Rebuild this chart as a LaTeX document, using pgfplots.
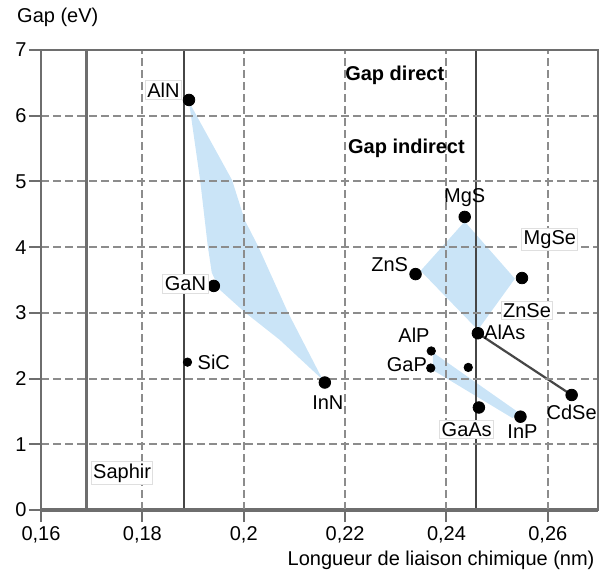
\documentclass[border=0pt]{standalone}
\usepackage{fontspec}
\setmainfont{Liberation Sans}
\usepackage{pgfplots}
\pgfplotsset{compat=1.18}
\definecolor{fillblue}{RGB}{202,228,247}
\definecolor{axgray}{RGB}{110,110,110}
\definecolor{gridgray}{RGB}{140,140,140}
\definecolor{darkline}{RGB}{70,70,70}
\begin{document}
\begin{tikzpicture}[
  lab/.style={font=\fontsize{10}{12}\selectfont, inner sep=1pt},
  boxlab/.style={font=\fontsize{10}{12}\selectfont, inner sep=1pt, draw=gray!25, fill=white, line width=0.5pt},
]
\path[use as bounding box] (-20.5pt,-32.5pt) rectangle (279.5pt,255pt);
\begin{axis}[
  scale only axis,
  width=278.5pt, height=230pt,
  at={(0,0)}, anchor=south west,
  xmin=0.16, xmax=0.2699,
  ymin=0, ymax=7,
  xtick={0.16,0.18,0.20,0.22,0.24,0.26},
  xticklabels={0{,}16,0{,}18,0{,}2,0{,}22,0{,}24,0{,}26},
  ytick={0,1,2,3,4,5,6,7},
  /pgf/number format/assume math mode=true,
  tick label style={font=\fontsize{10}{12}\selectfont},
  yticklabel style={inner sep=1pt},
  xticklabel style={inner sep=2pt},
  xtick pos=bottom, ytick pos=left,
  tick align=outside,
  major tick length=6pt,
  tick style={axgray, line width=1pt},
  axis line style={axgray, line width=1.2pt},
  xmajorgrids, ymajorgrids,
  major grid style={gridgray, line width=1pt, dash pattern=on 4pt off 2pt},
  axis on top,
  clip=false,
]
% shaded regions
\addplot[fill=fillblue, draw=none] coordinates {
  (0.1892,6.21) (0.1977,5.02) (0.2002,4.41) (0.2028,4.02) (0.2087,3.01)
  (0.2156,1.98) (0.2071,2.59) (0.2002,3.01) (0.1953,3.35) (0.1937,3.61)
  (0.1929,4.02) (0.1914,5.02)} -- cycle;
\addplot[fill=fillblue, draw=none] coordinates {
  (0.2436,4.39) (0.2535,3.52) (0.2462,2.74) (0.2349,3.64)} -- cycle;
\addplot[fill=fillblue, draw=none] coordinates {
  (0.2373,2.40) (0.2545,1.47) (0.2530,1.40) (0.2373,2.13)} -- cycle;
% vertical reference lines
\addplot[axgray, line width=1.6pt] coordinates {(0.1689,0) (0.1689,7)};
\addplot[darkline, line width=0.9pt] coordinates {(0.1882,0) (0.1882,7)};
\addplot[darkline, line width=1.1pt] coordinates {(0.2459,0) (0.2459,7)};
% AlAs - CdSe line
\addplot[darkline, line width=1.1pt] coordinates {(0.2462,2.69) (0.2647,1.75)};
% bottom thick line
\draw[axgray, line width=1.8pt] (rel axis cs:0,0) -- (rel axis cs:1,0);
% points
\addplot[only marks, mark=*, mark size=2.9pt, black] coordinates {
  (0.1892,6.24) (0.1941,3.41) (0.2160,1.94) (0.2436,4.46) (0.2339,3.59)
  (0.2549,3.53) (0.2462,2.69) (0.2464,1.56) (0.2546,1.42) (0.2647,1.75)};
\addplot[only marks, mark=*, mark size=2.1pt, black] coordinates {
  (0.1889,2.25) (0.2370,2.42) (0.2369,2.16) (0.2443,2.17)};
% label anchors
\coordinate (lAlN) at (axis cs:0.18416,6.39);
\coordinate (lGaN) at (axis cs:0.1885,3.44);
\coordinate (lSiC) at (axis cs:0.1941,2.25);
\coordinate (lInN) at (axis cs:0.2166,1.63);
\coordinate (lMgS) at (axis cs:0.2436,4.76);
\coordinate (lZnS) at (axis cs:0.2288,3.73);
\coordinate (lMgSe) at (axis cs:0.2604,4.12);
\coordinate (lZnSe) at (axis cs:0.2559,3.04);
\coordinate (lAlAs) at (axis cs:0.2515,2.71);
\coordinate (lAlP) at (axis cs:0.2336,2.66);
\coordinate (lGaP) at (axis cs:0.2322,2.21);
\coordinate (lGaAs) at (axis cs:0.2440,1.22);
\coordinate (lInP) at (axis cs:0.2550,1.19);
\coordinate (lCdSe) at (axis cs:0.2647,1.49);
\coordinate (lSaphir) at (axis cs:0.1760,0.56);
\coordinate (lGd) at (axis cs:0.2298,6.62);
\coordinate (lGi) at (axis cs:0.2321,5.51);
\coordinate (lY) at (rel axis cs:-0.047,1.07);
\coordinate (lX) at (rel axis cs:0.998,-0.11);
\end{axis}
\node[boxlab] at (lAlN) {AlN};
\node[boxlab] at (lGaN) {GaN};
\node[lab] at (lSiC) {SiC};
\node[lab] at (lInN) {InN};
\node[lab] at (lMgS) {MgS};
\node[lab] at (lZnS) {ZnS};
\node[boxlab] at (lMgSe) {MgSe};
\node[boxlab] at (lZnSe) {ZnSe};
\node[lab] at (lAlAs) {AlAs};
\node[lab] at (lAlP) {AlP};
\node[lab] at (lGaP) {GaP};
\node[boxlab] at (lGaAs) {GaAs};
\node[lab] at (lInP) {InP};
\node[lab] at (lCdSe) {CdSe};
\node[boxlab] at (lSaphir) {Saphir};
\node[lab, font=\fontsize{10}{12}\selectfont\bfseries] at (lGd) {Gap direct};
\node[lab, font=\fontsize{10}{12}\selectfont\bfseries] at (lGi) {Gap indirect};
\node[lab, anchor=west] at (lY) {Gap (eV)};
\node[lab, anchor=east] at (lX) {Longueur de liaison chimique (nm)};
\end{tikzpicture}
\end{document}
